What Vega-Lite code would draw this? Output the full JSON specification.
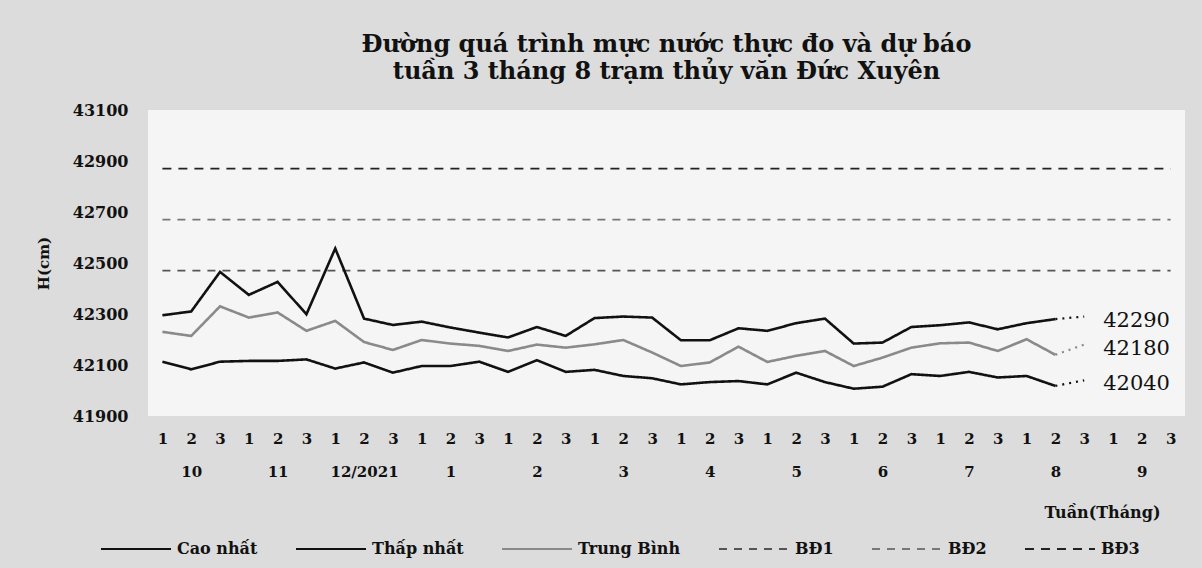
{
  "$schema": "https://vega.github.io/schema/vega-lite/v6.json",
  "autosize": "none",
  "width": 1037,
  "height": 306,
  "padding": {"left": 148, "top": 110, "right": 17, "bottom": 152},
  "background": "#dcdcdc",
  "view": {"fill": "#f5f5f5", "stroke": null},
  "title": {
    "text": ["Đường quá trình mực nước thực đo và dự báo", "tuần 3 tháng 8 trạm thủy văn Đức Xuyên"],
    "anchor": "middle",
    "font": "DejaVu Serif",
    "fontSize": 24,
    "fontWeight": "bold",
    "color": "#111",
    "lineHeight": 27,
    "offset": 18
  },
  "datasets": {
    "obs": [
      {"slot": 0, "series": "Cao nhất", "value": 42295}, {"slot": 1, "series": "Cao nhất", "value": 42310}, {"slot": 2, "series": "Cao nhất", "value": 42465}, {"slot": 3, "series": "Cao nhất", "value": 42375},
      {"slot": 4, "series": "Cao nhất", "value": 42426}, {"slot": 5, "series": "Cao nhất", "value": 42299}, {"slot": 6, "series": "Cao nhất", "value": 42557}, {"slot": 7, "series": "Cao nhất", "value": 42282},
      {"slot": 8, "series": "Cao nhất", "value": 42257}, {"slot": 9, "series": "Cao nhất", "value": 42270}, {"slot": 10, "series": "Cao nhất", "value": 42247}, {"slot": 11, "series": "Cao nhất", "value": 42227},
      {"slot": 12, "series": "Cao nhất", "value": 42208}, {"slot": 13, "series": "Cao nhất", "value": 42249}, {"slot": 14, "series": "Cao nhất", "value": 42214}, {"slot": 15, "series": "Cao nhất", "value": 42284},
      {"slot": 16, "series": "Cao nhất", "value": 42290}, {"slot": 17, "series": "Cao nhất", "value": 42286}, {"slot": 18, "series": "Cao nhất", "value": 42197}, {"slot": 19, "series": "Cao nhất", "value": 42197},
      {"slot": 20, "series": "Cao nhất", "value": 42244}, {"slot": 21, "series": "Cao nhất", "value": 42234}, {"slot": 22, "series": "Cao nhất", "value": 42264}, {"slot": 23, "series": "Cao nhất", "value": 42282},
      {"slot": 24, "series": "Cao nhất", "value": 42184}, {"slot": 25, "series": "Cao nhất", "value": 42188}, {"slot": 26, "series": "Cao nhất", "value": 42249}, {"slot": 27, "series": "Cao nhất", "value": 42256},
      {"slot": 28, "series": "Cao nhất", "value": 42267}, {"slot": 29, "series": "Cao nhất", "value": 42240}, {"slot": 30, "series": "Cao nhất", "value": 42264}, {"slot": 31, "series": "Cao nhất", "value": 42280},

      {"slot": 0, "series": "Thấp nhất", "value": 42113}, {"slot": 1, "series": "Thấp nhất", "value": 42083}, {"slot": 2, "series": "Thấp nhất", "value": 42113}, {"slot": 3, "series": "Thấp nhất", "value": 42116},
      {"slot": 4, "series": "Thấp nhất", "value": 42116}, {"slot": 5, "series": "Thấp nhất", "value": 42122}, {"slot": 6, "series": "Thấp nhất", "value": 42086}, {"slot": 7, "series": "Thấp nhất", "value": 42110},
      {"slot": 8, "series": "Thấp nhất", "value": 42070}, {"slot": 9, "series": "Thấp nhất", "value": 42096}, {"slot": 10, "series": "Thấp nhất", "value": 42096}, {"slot": 11, "series": "Thấp nhất", "value": 42113},
      {"slot": 12, "series": "Thấp nhất", "value": 42073}, {"slot": 13, "series": "Thấp nhất", "value": 42119}, {"slot": 14, "series": "Thấp nhất", "value": 42073}, {"slot": 15, "series": "Thấp nhất", "value": 42081},
      {"slot": 16, "series": "Thấp nhất", "value": 42057}, {"slot": 17, "series": "Thấp nhất", "value": 42048}, {"slot": 18, "series": "Thấp nhất", "value": 42024}, {"slot": 19, "series": "Thấp nhất", "value": 42033},
      {"slot": 20, "series": "Thấp nhất", "value": 42037}, {"slot": 21, "series": "Thấp nhất", "value": 42024}, {"slot": 22, "series": "Thấp nhất", "value": 42070}, {"slot": 23, "series": "Thấp nhất", "value": 42033},
      {"slot": 24, "series": "Thấp nhất", "value": 42007}, {"slot": 25, "series": "Thấp nhất", "value": 42015}, {"slot": 26, "series": "Thấp nhất", "value": 42064}, {"slot": 27, "series": "Thấp nhất", "value": 42057},
      {"slot": 28, "series": "Thấp nhất", "value": 42073}, {"slot": 29, "series": "Thấp nhất", "value": 42051}, {"slot": 30, "series": "Thấp nhất", "value": 42057}, {"slot": 31, "series": "Thấp nhất", "value": 42018},

      {"slot": 0, "series": "Trung Bình", "value": 42230}, {"slot": 1, "series": "Trung Bình", "value": 42214}, {"slot": 2, "series": "Trung Bình", "value": 42330}, {"slot": 3, "series": "Trung Bình", "value": 42286},
      {"slot": 4, "series": "Trung Bình", "value": 42306}, {"slot": 5, "series": "Trung Bình", "value": 42234}, {"slot": 6, "series": "Trung Bình", "value": 42273}, {"slot": 7, "series": "Trung Bình", "value": 42190},
      {"slot": 8, "series": "Trung Bình", "value": 42159}, {"slot": 9, "series": "Trung Bình", "value": 42198}, {"slot": 10, "series": "Trung Bình", "value": 42184}, {"slot": 11, "series": "Trung Bình", "value": 42175},
      {"slot": 12, "series": "Trung Bình", "value": 42155}, {"slot": 13, "series": "Trung Bình", "value": 42180}, {"slot": 14, "series": "Trung Bình", "value": 42168}, {"slot": 15, "series": "Trung Bình", "value": 42181},
      {"slot": 16, "series": "Trung Bình", "value": 42198}, {"slot": 17, "series": "Trung Bình", "value": 42149}, {"slot": 18, "series": "Trung Bình", "value": 42096}, {"slot": 19, "series": "Trung Bình", "value": 42110},
      {"slot": 20, "series": "Trung Bình", "value": 42172}, {"slot": 21, "series": "Trung Bình", "value": 42112}, {"slot": 22, "series": "Trung Bình", "value": 42136}, {"slot": 23, "series": "Trung Bình", "value": 42155},
      {"slot": 24, "series": "Trung Bình", "value": 42096}, {"slot": 25, "series": "Trung Bình", "value": 42129}, {"slot": 26, "series": "Trung Bình", "value": 42168}, {"slot": 27, "series": "Trung Bình", "value": 42185},
      {"slot": 28, "series": "Trung Bình", "value": 42188}, {"slot": 29, "series": "Trung Bình", "value": 42155}, {"slot": 30, "series": "Trung Bình", "value": 42201}, {"slot": 31, "series": "Trung Bình", "value": 42140}
    ],
    "forecast": [
      {"slot": 31, "series": "Cao nhất", "value": 42280, "label": ""},
      {"slot": 32, "series": "Cao nhất", "value": 42290, "label": "42290"},
      {"slot": 31, "series": "Thấp nhất", "value": 42018, "label": ""},
      {"slot": 32, "series": "Thấp nhất", "value": 42040, "label": "42040"},
      {"slot": 31, "series": "Trung Bình", "value": 42140, "label": ""},
      {"slot": 32, "series": "Trung Bình", "value": 42180, "label": "42180"}
    ],
    "bd": [
      {"slot": 0, "series": "BĐ1", "value": 42470}, {"slot": 35, "series": "BĐ1", "value": 42470},
      {"slot": 0, "series": "BĐ2", "value": 42670}, {"slot": 35, "series": "BĐ2", "value": 42670},
      {"slot": 0, "series": "BĐ3", "value": 42870}, {"slot": 35, "series": "BĐ3", "value": 42870}
    ]
  },
  "encoding": {
    "x": {
      "field": "slot", "type": "quantitative",
      "scale": {"domain": [-0.5, 35.5], "nice": false, "zero": false},
      "axis": {
        "values": [0,1,2,3,4,5,6,7,8,9,10,11,12,13,14,15,16,17,18,19,20,21,22,23,24,25,26,27,28,29,30,31,32,33,34,35],
        "labelExpr": "datum.value % 3 == 1 ? ['' + (datum.value % 3 + 1), ['10','11','12/2021','1','2','3','4','5','6','7','8','9'][floor(datum.value / 3)]] : '' + (datum.value % 3 + 1)",
        "labelLineHeight": 33,
        "labelFont": "DejaVu Serif", "labelFontSize": 15, "labelFontWeight": "bold", "labelColor": "#111",
        "labelPadding": 15, "labelFlush": false, "labelOverlap": false,
        "ticks": false, "domain": false, "grid": false,
        "title": "Tuần(Tháng)",
        "titleFont": "DejaVu Serif", "titleFontSize": 16, "titleFontWeight": "bold", "titleColor": "#111",
        "titleX": 1012, "titleY": 96, "titleAlign": "right", "titleBaseline": "middle", "titleAnchor": null
      }
    },
    "y": {
      "field": "value", "type": "quantitative",
      "scale": {"domain": [41900, 43100], "nice": false, "zero": false},
      "axis": {
        "values": [41900, 42100, 42300, 42500, 42700, 42900, 43100],
        "format": "d",
        "labelFont": "DejaVu Serif", "labelFontSize": 16, "labelFontWeight": "bold", "labelColor": "#111",
        "labelPadding": 20, "ticks": false, "domain": false, "grid": false,
        "title": "H(cm)",
        "titleFont": "DejaVu Serif", "titleFontSize": 15, "titleFontWeight": "bold", "titleColor": "#111",
        "titleX": -105, "titleY": 153, "titleAngle": 270, "titleAlign": "center", "titleBaseline": "middle"
      }
    }
  },
  "layer": [
    {
      "data": {"name": "bd"},
      "mark": {"type": "line", "strokeWidth": 1.8},
      "encoding": {
        "color": {"field": "series", "type": "nominal",
          "scale": {"domain": ["Cao nhất", "Thấp nhất", "Trung Bình", "BĐ1", "BĐ2", "BĐ3"], "range": ["#111111", "#111111", "#8a8a8a", "#555555", "#777777", "#222222"]},
          "legend": {
            "orient": "none", "legendX": -50, "legendY": 431, "direction": "horizontal", "title": null,
            "symbolType": "M -1 0 H 13", "symbolSize": 100, "symbolStrokeWidth": 2,
            "labelFont": "DejaVu Serif", "labelFontSize": 16, "labelFontWeight": "bold", "labelColor": "#111",
            "labelOffset": 63, "columnPadding": 34
          }},
        "strokeDash": {"field": "series", "type": "nominal",
          "scale": {"domain": ["Cao nhất", "Thấp nhất", "Trung Bình", "BĐ1", "BĐ2", "BĐ3"], "range": [[1, 0], [1, 0], [1, 0], [8, 7], [8, 7], [9, 7]]}}
      }
    },
    {
      "data": {"name": "obs"},
      "mark": {"type": "line", "strokeWidth": 2.6},
      "encoding": {
        "color": {"field": "series", "type": "nominal"},
        "strokeDash": {"field": "series", "type": "nominal"}
      }
    },
    {
      "data": {"name": "forecast"},
      "mark": {"type": "line", "strokeWidth": 2.2, "strokeDash": [2, 5]},
      "encoding": {
        "color": {"field": "series", "type": "nominal"},
        "detail": {"field": "series"}
      }
    },
    {
      "data": {"name": "forecast"},
      "transform": [{"filter": "datum.label != ''"}],
      "mark": {"type": "text", "align": "left", "baseline": "middle", "dx": 19, "dy": 4, "font": "DejaVu Serif", "fontSize": 21, "color": "#111"},
      "encoding": {
        "text": {"field": "label"}
      }
    }
  ]
}
